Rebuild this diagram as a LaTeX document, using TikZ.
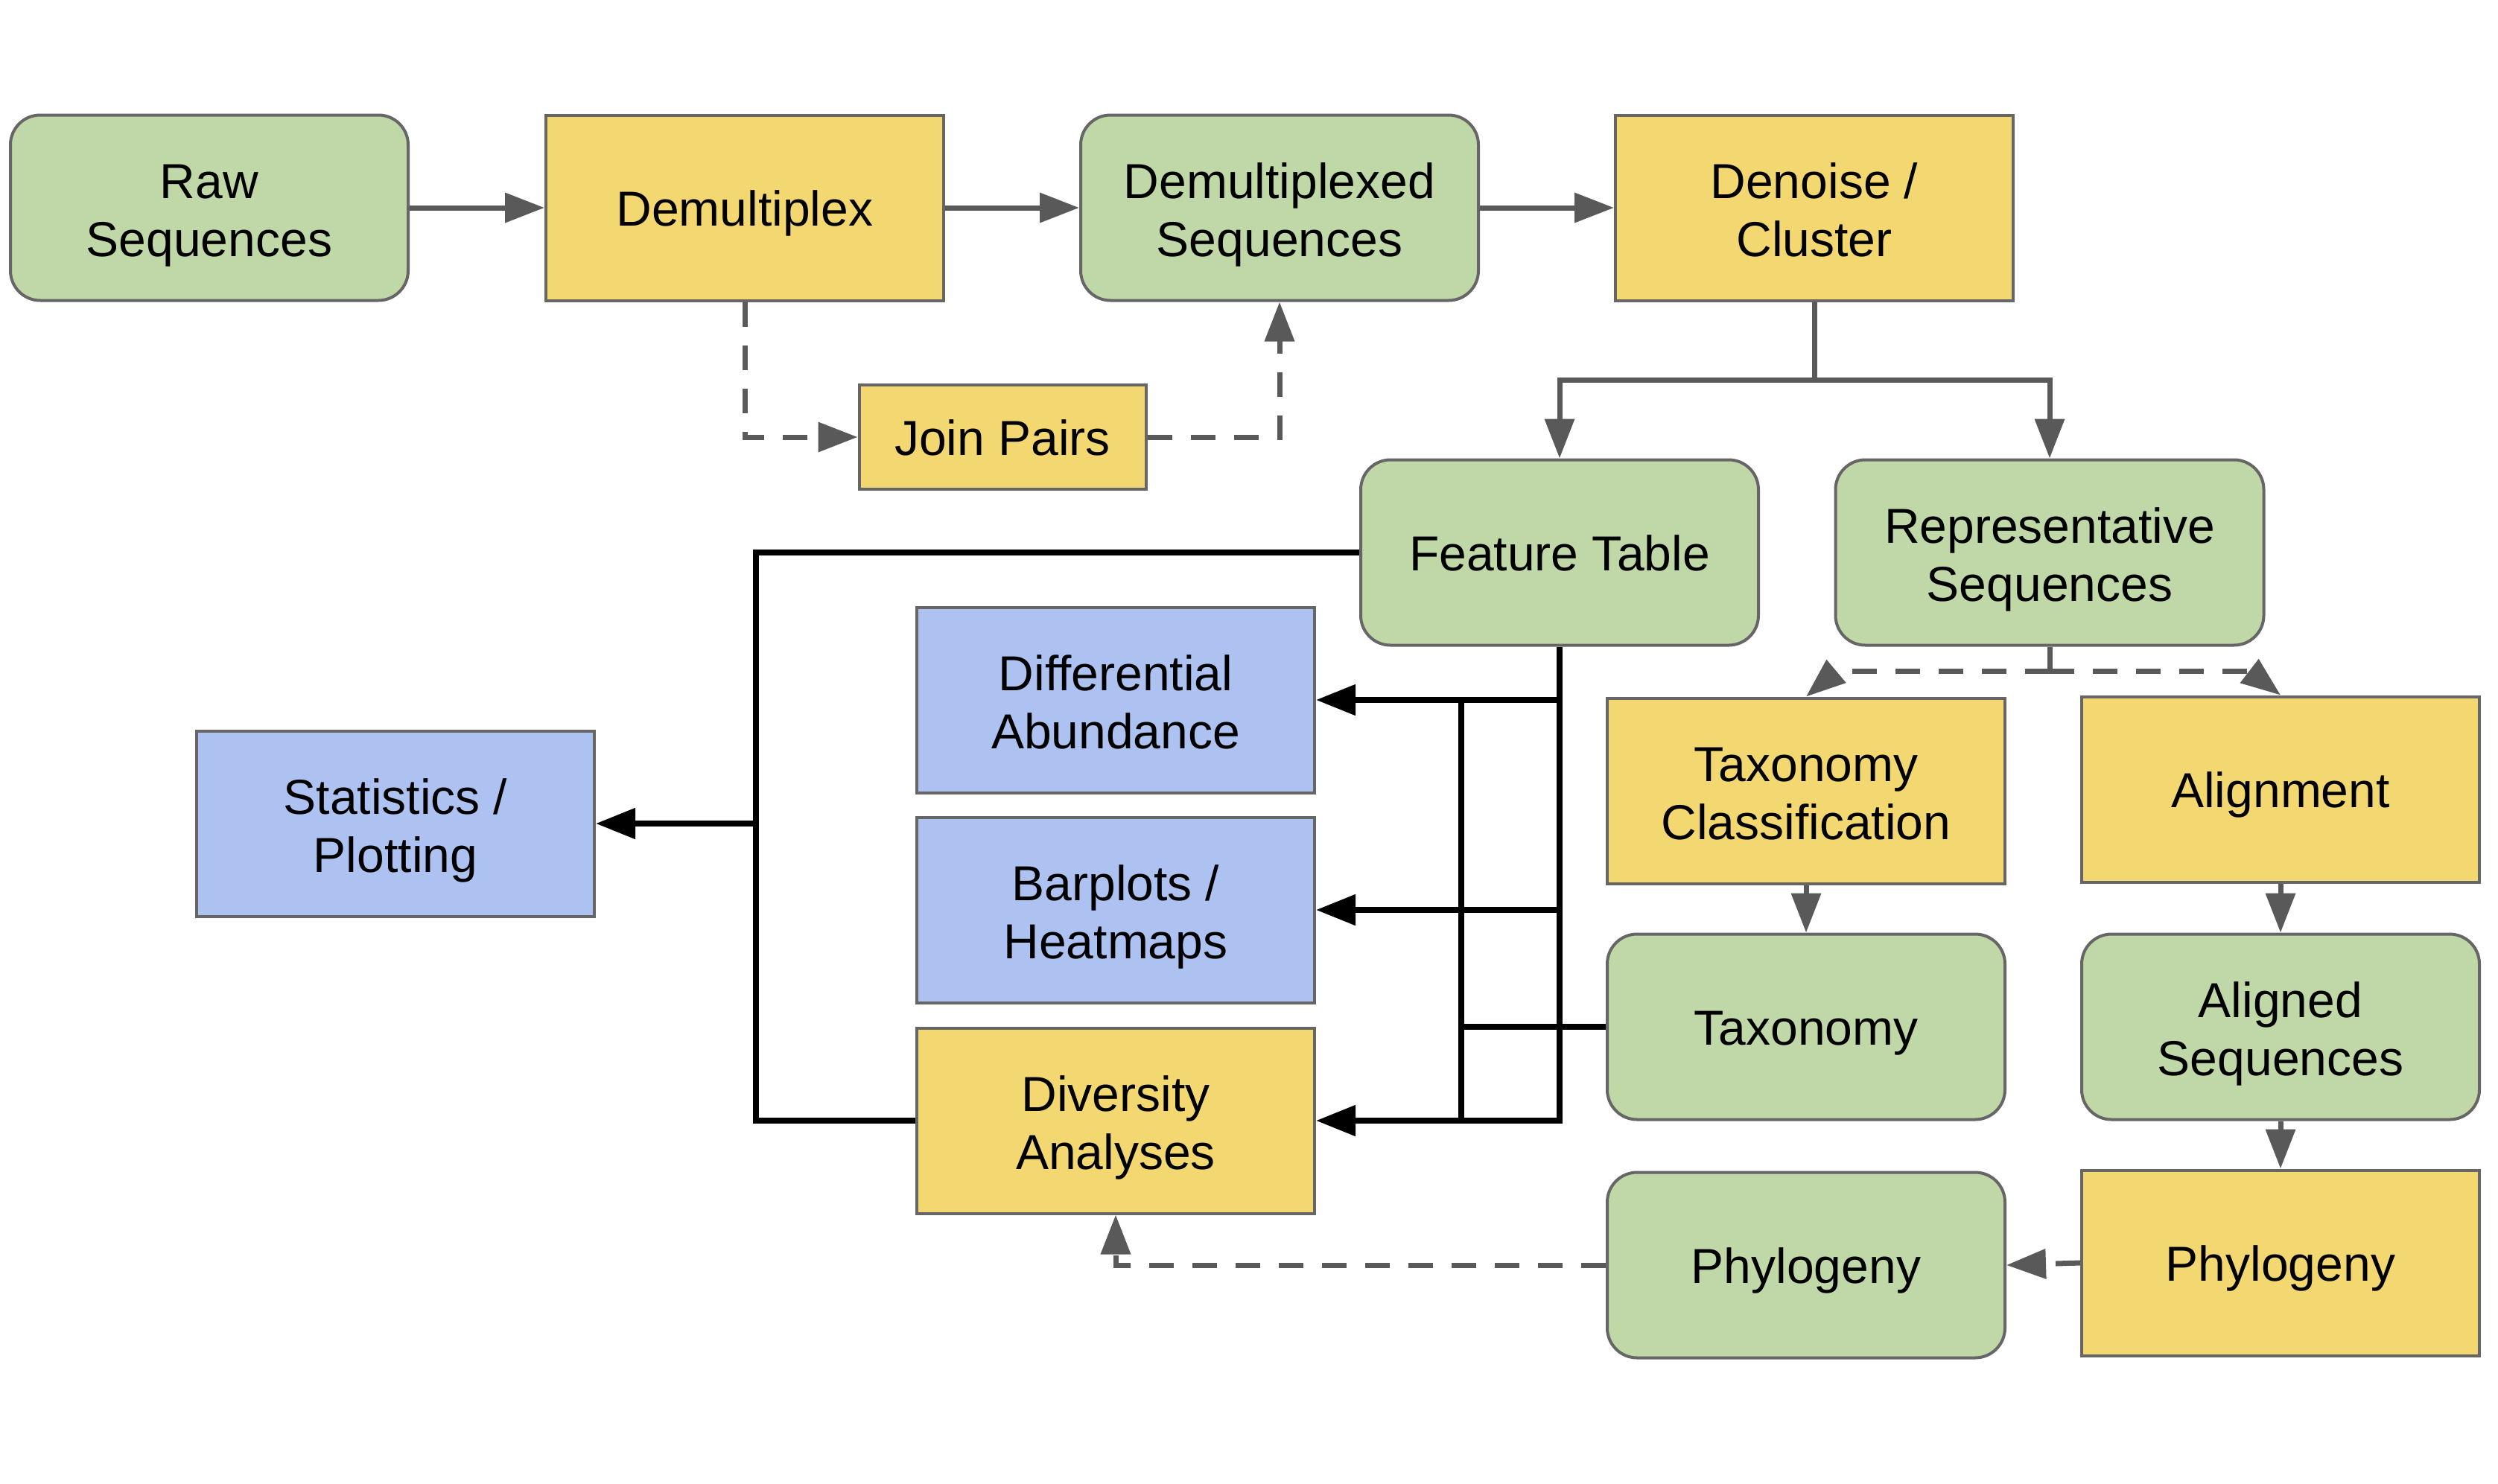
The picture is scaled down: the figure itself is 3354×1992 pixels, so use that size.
\documentclass[tikz,border=0pt]{standalone}
\usepackage{fontspec}
\setmainfont{Liberation Sans}
\usetikzlibrary{arrows.meta}
\definecolor{gfill}{HTML}{C0D7A8}
\definecolor{yfill}{HTML}{F3D770}
\definecolor{bfill}{HTML}{ADC2F1}
\definecolor{bord}{HTML}{666666}
\definecolor{lgray}{HTML}{595959}
\newcommand\twolines[2]{\rule{0pt}{70pt}#1\\#2}
\tikzset{
  box/.style={draw=bord, line width=4pt, minimum width=534pt, minimum height=249pt,
    inner sep=0pt, align=center, font=\fontsize{66pt}{78pt}\selectfont,
    execute at begin node={\rule{0pt}{66pt}},
    execute at end node={\rule[-18pt]{0pt}{18pt}}},
  gbox/.style={box, fill=gfill, rounded corners=40pt},
  ybox/.style={box, fill=yfill},
  bbox/.style={box, fill=bfill},
  gline/.style={draw=lgray, line width=7pt},
  garrow/.style={gline, -{Triangle[length=53pt, width=39pt]}},
  gdash/.style={gline, dash pattern=on 33pt off 25pt},
  gdasharrow/.style={gdash, -{Triangle[length=53pt, width=39pt]}},
  kline/.style={draw=black, line width=8pt},
  karrow/.style={kline, -{Triangle[length=53pt, width=40pt]}},
}
\begin{document}
\begin{tikzpicture}[x=1pt, y=-1pt]
\useasboundingbox (0,0) rectangle (3354,1992);
% top row
\node[gbox] (raw)   at (281,279)  {\twolines{Raw}{Sequences}};
\node[ybox] (demux) at (1000,279) {Demultiplex};
\node[gbox] (dmseq) at (1718,279) {\twolines{Demultiplexed}{Sequences}};
\node[ybox] (den)   at (2436,279) {\twolines{Denoise /}{Cluster}};
\node[ybox, minimum width=385pt, minimum height=140pt] (join) at (1346,587) {Join Pairs};
% second row
\node[gbox] (ft)  at (2094,742) {Feature Table};
\node[gbox, minimum width=575pt] (rep) at (2752,742) {\twolines{Representative}{Sequences}};
% left column outputs
\node[bbox] (diff)  at (1498,940)  {\twolines{Differential}{Abundance}};
\node[bbox] (bar)   at (1498,1222) {\twolines{Barplots /}{Heatmaps}};
\node[ybox] (div)   at (1498,1505) {\twolines{Diversity}{Analyses}};
\node[bbox] (stats) at (531,1106)  {\twolines{Statistics /}{Plotting}};
% right columns
\node[ybox] (tc)   at (2425,1062) {\twolines{Taxonomy}{Classification}};
\node[ybox] (al)   at (3062,1060) {Alignment};
\node[gbox] (tax)  at (2425,1379) {Taxonomy};
\node[gbox] (aseq) at (3062,1379) {\twolines{Aligned}{Sequences}};
\node[gbox] (phg)  at (2425,1699) {Phylogeny};
\node[ybox] (phy)  at (3062,1696) {Phylogeny};

% top row connectors
\draw[garrow] (raw.east) -- (demux.west);
\draw[garrow] (demux.east) -- (dmseq.west);
\draw[garrow] (dmseq.east) -- (den.west);
\draw[gdasharrow] (demux.south) |- (join.west);
\draw[gdasharrow] (join.east) -| (dmseq.south);
% denoise split
\coordinate (split) at (den.south |- 0,510);
\draw[gline] (den.south) -- (split);
\draw[garrow] (split) -| (ft.north);
\draw[garrow] (split) -| (rep.north);
% representative sequences split (dashed)
\coordinate (rsp) at (rep.south |- 0,901);
\coordinate (rl) at (2466,901);
\coordinate (rr) at (3020,901);
\draw[gline] (rep.south) -- (rsp);
\draw[gdasharrow] (rsp) -- (rl) -- (tc.north);
\draw[gdasharrow] (rsp) -- (rr) -- (al.north);
% vertical gray arrows
\draw[garrow] (tc.south) -- (tax.north);
\draw[garrow] (al.south) -- (aseq.north);
\draw[garrow] (aseq.south) -- (phy.north);
% phylogeny dashed
\draw[gdasharrow] (phy.west) -- (phg.east);
\draw[gdasharrow] (phg.west) -| (div.south);
% feature table black connectors
\draw[karrow] (ft.south) |- (div.east);
\draw[karrow] (ft.south |- diff.east) -- (diff.east);
\draw[karrow] (ft.south |- bar.east) -- (bar.east);
\coordinate (tj) at (1962,1379);
\draw[kline] (tax.west) -- (tj);
\draw[kline] (1962,940) -- (1962,1505);
% to statistics
\coordinate (sj) at (1015,1106);
\draw[kline] (ft.west) -| (sj) |- (div.west);
\draw[karrow] (sj) -- (stats.east);
\end{tikzpicture}
\end{document}
